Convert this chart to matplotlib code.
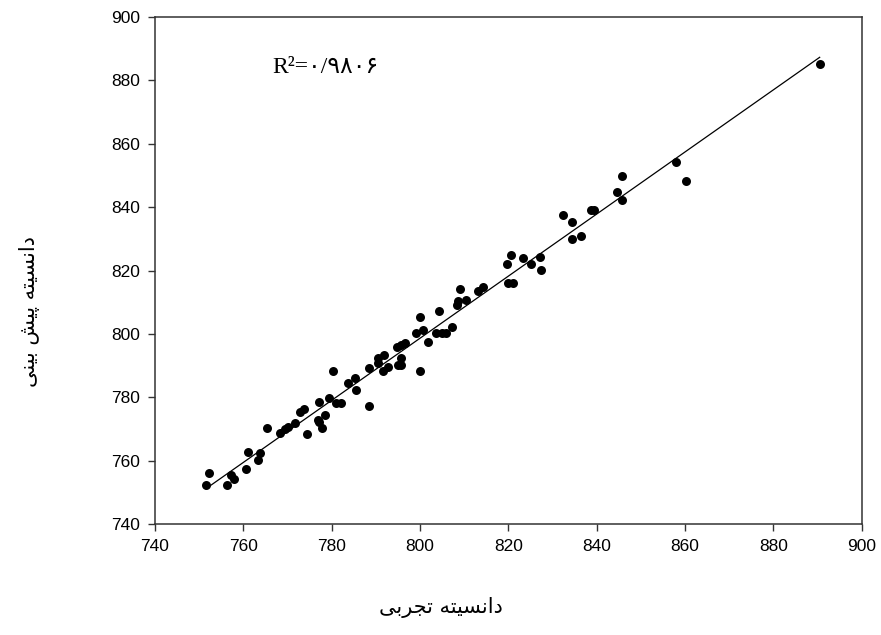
import matplotlib
matplotlib.use("Agg")
import matplotlib.pyplot as plt
import numpy as np

experimental = [751.5, 752.3, 756.3, 757.2, 757.9, 760.7, 761.1, 763.4, 763.8, 765.4,
                768.3, 769.4, 770.0, 771.8, 772.8, 773.8, 774.3, 776.9, 777.2, 777.7,
                777.2, 778.5, 779.4, 780.2, 780.9, 782.1, 783.7, 785.2, 785.5, 788.5,
                788.5, 790.5, 790.5, 791.8, 791.7, 792.8, 795.0, 795.8, 795.7, 794.8,
                795.7, 796.6, 799.2, 800.0, 800.7, 800.0, 801.8, 804.3, 803.7, 804.9,
                805.8, 807.3, 808.3, 808.6, 809.0, 810.4, 813.1, 814.3, 819.6, 820.7,
                819.9, 821.1, 823.3, 825.2, 827.1, 827.5, 832.4, 834.4, 834.4, 836.5,
                838.8, 839.5, 844.5, 845.8, 845.8, 858.0, 860.3, 890.5]
predicted = [752.3, 756.0, 752.3, 755.5, 754.2, 757.2, 762.6, 760.2, 762.3, 770.3,
             768.6, 770.0, 770.5, 772.0, 775.2, 776.2, 768.4, 772.8, 772.3, 770.2,
             778.6, 774.4, 779.6, 788.4, 778.3, 778.3, 784.4, 786.0, 782.3, 789.1,
             777.3, 792.3, 790.7, 793.3, 788.4, 789.4, 790.2, 790.2, 792.3, 795.7,
             796.5, 797.0, 800.2, 805.2, 801.2, 788.4, 797.3, 807.2, 800.2, 800.2,
             800.2, 802.2, 809.1, 810.4, 814.1, 810.7, 813.6, 814.7, 822.2, 824.9,
             816.1, 816.1, 824.1, 822.2, 824.3, 820.1, 837.5, 835.4, 830.1, 830.9,
             839.1, 839.1, 844.8, 849.8, 842.2, 854.2, 848.4, 885.1]

ticks = [740, 760, 780, 800, 820, 840, 860, 880, 900]

# Persian labels written in shaped presentation forms, visual (left-to-right) order
xlabel = "\uFEF0\uFE91\uFEAE\uFEA0\uFE97 \uFEEA\uFE98\uFEF4\uFEB4\uFEE7\uFE8D\uFEA9"   # دانسیته تجربی
ylabel = ("\uFEF0\uFEE8\uFEF4\uFE91 \uFEB6\uFEF4\uFB58 "
          "\uFEEA\uFE98\uFEF4\uFEB4\uFEE7\uFE8D\uFEA9")                              # دانسیته پیش بینی
r2_text = "R\u00b2=\u06f0/\u06f9\u06f8\u06f0\u06f6"

x = np.array(experimental)
y = np.array(predicted)
coef = np.polyfit(x, y, 1)
xl = np.array([x.min(), x.max()])

fig = plt.figure(figsize=(8.81, 6.35), dpi=100)
ax = fig.add_axes([0.176, 0.175, 0.802, 0.798])

ax.scatter(x, y, s=42, color="black", zorder=3, linewidths=0)
ax.plot(xl, np.polyval(coef, xl), color="black", lw=0.9, zorder=2)

ax.set_xlim(740, 900)
ax.set_ylim(740, 900)
ax.set_xticks(ticks)
ax.set_yticks(ticks)
ax.tick_params(direction="out", length=5, width=1, color="#333333",
               labelsize=12.5, pad=6)
for lab in ax.get_xticklabels() + ax.get_yticklabels():
    lab.set_family("Liberation Sans")
for s in ax.spines.values():
    s.set_linewidth(1.1)
    s.set_color("#333333")

ax.text(766.5, 884.0, r2_text, fontsize=17, ha="left", va="center",
        family=["Liberation Serif", "DejaVu Sans"])

fig.text(0.5, 1 - 608 / 635, xlabel, fontsize=15, ha="center", va="center",
         family="DejaVu Sans")
fig.text(30 / 881, 1 - 312 / 635, ylabel, fontsize=15, ha="center", va="center",
         rotation=90, family="DejaVu Sans")

fig.savefig("out.png", dpi=100)
